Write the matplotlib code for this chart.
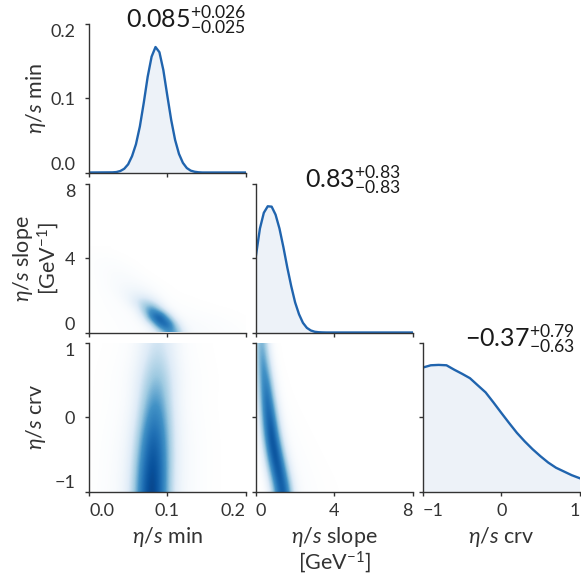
import numpy as np
import matplotlib
matplotlib.use("Agg")
import matplotlib.pyplot as plt
from matplotlib.colors import LinearSegmentedColormap

plt.rcParams['font.family'] = ['Lato', 'DejaVu Sans']
plt.rcParams['mathtext.fontset'] = 'custom'
plt.rcParams['mathtext.rm'] = 'Lato'
plt.rcParams['mathtext.it'] = 'Lato:italic'
plt.rcParams['mathtext.bf'] = 'Lato:bold'

# parameter names, ranges and ticks
names = [r'$\eta/s$ min', r'$\eta/s$ slope' + '\n' + r'[GeV$^{-1}$]', r'$\eta/s$ crv']
lims = [(0, 0.2), (0, 8), (-1, 1)]
ticks = [[0, 0.1, 0.2], [0, 4, 8], [-1, 0, 1]]
tick_labels = [['0.0', '0.1', '0.2'], ['0', '4', '8'], ['\u22121', '0', '1']]
titles = [r'$0.085^{+0.026}_{-0.025}$', r'$0.83^{+0.83}_{-0.83}$', r'$-0.37^{+0.79}_{-0.63}$']

# marginal posteriors (diagonal), in the units of each parameter axis
min_x = [0.000, 0.030, 0.035, 0.040, 0.045, 0.050, 0.055, 0.060, 0.065, 0.070, 0.075, 0.080, 0.085,
         0.090, 0.095, 0.100, 0.105, 0.110, 0.115, 0.120, 0.125, 0.130, 0.135, 0.140, 0.145, 0.200]
min_pdf = [0.0, 0.0002, 0.0006, 0.002, 0.005, 0.011, 0.022, 0.038, 0.062, 0.094, 0.129, 0.156, 0.169,
           0.162, 0.138, 0.104, 0.071, 0.044, 0.025, 0.013, 0.006, 0.0025, 0.001, 0.0003, 0.0, 0.0]

slope_x = [0.0, 0.2, 0.4, 0.6, 0.8, 1.0, 1.2, 1.4, 1.6, 1.8, 2.0, 2.2, 2.4, 2.6, 2.8, 3.0, 3.2, 3.4, 3.6, 8.0]
slope_pdf = [4.16, 5.6, 6.45, 6.8, 6.78, 6.35, 5.6, 4.6, 3.5, 2.5, 1.62, 0.98, 0.52, 0.25, 0.11, 0.04,
             0.015, 0.005, 0.0, 0.0]

crv_x = [-1.0, -0.9, -0.8, -0.7, -0.6, -0.5, -0.4, -0.3, -0.2, -0.1, 0.0,
         0.1, 0.2, 0.3, 0.4, 0.5, 0.6, 0.7, 0.8, 0.9, 1.0]
crv_pdf = [0.67, 0.70, 0.705, 0.70, 0.64, 0.585, 0.526, 0.43, 0.335, 0.20, 0.06,
           -0.077, -0.21, -0.325, -0.43, -0.524, -0.61, -0.68, -0.73, -0.78, -0.82]

# joint posteriors (off-diagonal), rows listed from bottom to top
min_grid = [0.00, 0.20]          # x centres for the two left panels, step 0.01
slope_rows = [0.0, 4.4]          # y centres, step 0.4
hist_min_slope = [
    [0.004, 0.005, 0.007, 0.009, 0.012, 0.015, 0.020, 0.030, 0.050, 0.170, 0.480, 0.480, 0.160, 0.045, 0.035, 0.030, 0.026, 0.022, 0.018, 0.014, 0.010],
    [0.004, 0.006, 0.008, 0.010, 0.013, 0.017, 0.022, 0.035, 0.180, 0.680, 0.840, 0.320, 0.060, 0.035, 0.030, 0.026, 0.022, 0.018, 0.014, 0.010, 0.007],
    [0.005, 0.007, 0.009, 0.012, 0.015, 0.020, 0.030, 0.150, 0.650, 0.930, 0.410, 0.070, 0.030, 0.024, 0.020, 0.017, 0.014, 0.011, 0.008, 0.006, 0.004],
    [0.006, 0.008, 0.011, 0.014, 0.018, 0.025, 0.075, 0.350, 0.600, 0.310, 0.060, 0.022, 0.016, 0.013, 0.010, 0.008, 0.006, 0.005, 0.004, 0.003, 0.002],
    [0.006, 0.009, 0.012, 0.016, 0.025, 0.065, 0.190, 0.300, 0.220, 0.080, 0.022, 0.012, 0.009, 0.007, 0.005, 0.004, 0.003, 0.002, 0.002, 0.001, 0.001],
    [0.007, 0.010, 0.014, 0.022, 0.045, 0.090, 0.120, 0.105, 0.060, 0.024, 0.010, 0.006, 0.004, 0.003, 0.002, 0.001, 0.001, 0.001, 0.0, 0.0, 0.0],
    [0.007, 0.011, 0.019, 0.032, 0.048, 0.059, 0.057, 0.043, 0.026, 0.012, 0.006, 0.003, 0.002, 0.001, 0.001, 0.0, 0.0, 0.0, 0.0, 0.0, 0.0],
    [0.007, 0.012, 0.020, 0.030, 0.039, 0.039, 0.030, 0.018, 0.009, 0.004, 0.002, 0.001] + [0.0] * 9,
    [0.008, 0.014, 0.022, 0.029, 0.029, 0.023, 0.015, 0.007, 0.003, 0.001] + [0.0] * 11,
    [0.009, 0.014, 0.018, 0.020, 0.017, 0.011, 0.006, 0.002] + [0.0] * 13,
    [0.008, 0.011, 0.012, 0.011, 0.007, 0.004, 0.002] + [0.0] * 14,
    [0.005, 0.006, 0.005, 0.003, 0.002, 0.001] + [0.0] * 15,
]

crv_rows = [-1.0, 1.0]           # y centres, step 0.25
hist_min_crv = [
    [0.006, 0.011, 0.020, 0.032, 0.060, 0.146, 0.385, 0.750, 0.950, 0.750, 0.385, 0.146, 0.060, 0.032, 0.020, 0.011, 0.006, 0.003, 0.0015, 0.0007, 0.0],
    [0.0055, 0.010, 0.018, 0.029, 0.054, 0.131, 0.345, 0.690, 0.918, 0.754, 0.405, 0.156, 0.062, 0.033, 0.020, 0.012, 0.0064, 0.0033, 0.0016, 0.0007, 0.0],
    [0.005, 0.009, 0.016, 0.026, 0.047, 0.110, 0.293, 0.604, 0.842, 0.723, 0.408, 0.162, 0.062, 0.034, 0.020, 0.012, 0.0064, 0.0034, 0.0017, 0.0008, 0.0003],
    [0.004, 0.0075, 0.0135, 0.022, 0.039, 0.090, 0.233, 0.503, 0.735, 0.660, 0.390, 0.158, 0.060, 0.032, 0.019, 0.011, 0.006, 0.003, 0.0015, 0.0008, 0.0003],
    [0.003, 0.006, 0.0105, 0.017, 0.030, 0.065, 0.174, 0.391, 0.595, 0.564, 0.347, 0.146, 0.056, 0.027, 0.016, 0.0096, 0.0053, 0.0028, 0.0013, 0.0006, 0.0002],
    [0.0025, 0.0045, 0.008, 0.013, 0.0225, 0.0475, 0.128, 0.298, 0.472, 0.472, 0.298, 0.128, 0.0475, 0.0225, 0.013, 0.008, 0.0045, 0.0025, 0.0013, 0.0006, 0.0003],
    [0.0027, 0.005, 0.0084, 0.0133, 0.0228, 0.0456, 0.110, 0.228, 0.353, 0.369, 0.258, 0.129, 0.053, 0.025, 0.0144, 0.0091, 0.0057, 0.003, 0.0015, 0.0008, 0.0004],
    [0.002, 0.0036, 0.0059, 0.0095, 0.016, 0.031, 0.076, 0.160, 0.255, 0.274, 0.199, 0.104, 0.042, 0.0196, 0.0112, 0.007, 0.0042, 0.0022, 0.0011, 0.0006, 0.0003],
    [0.0013, 0.0024, 0.004, 0.0064, 0.011, 0.021, 0.050, 0.108, 0.178, 0.198, 0.148, 0.080, 0.032, 0.015, 0.0084, 0.0052, 0.0032, 0.0018, 0.0009, 0.0004, 0.0002],
]

slope_grid = [0.0, 5.0]          # x centres, step 0.2
hist_slope_crv = [
    [0.0002, 0.002, 0.014, 0.065, 0.212, 0.485, 0.767, 0.921, 0.704, 0.390, 0.167, 0.067, 0.035, 0.025, 0.0196, 0.016, 0.0136, 0.011, 0.0089, 0.0073, 0.006, 0.0049, 0.004, 0.0033, 0.0027, 0.0022],
    [0.0015, 0.011, 0.059, 0.210, 0.506, 0.824, 0.996, 0.748, 0.398, 0.162, 0.063, 0.033, 0.023, 0.018, 0.0147, 0.0118, 0.0094, 0.0075, 0.0061, 0.0049, 0.0039, 0.0031, 0.0025, 0.0019, 0.0016, 0.0013],
    [0.0086, 0.051, 0.197, 0.503, 0.846, 1.027, 0.755, 0.386, 0.147, 0.055, 0.0285, 0.020, 0.0152, 0.012, 0.0094, 0.0073, 0.0057, 0.0045, 0.0034, 0.0027, 0.0021, 0.0016, 0.0012, 0.001, 0.0008, 0.0006],
    [0.031, 0.142, 0.412, 0.768, 1.007, 0.770, 0.396, 0.146, 0.051, 0.024, 0.016, 0.012, 0.0091, 0.0068, 0.0052, 0.0039, 0.0029, 0.0022, 0.0017, 0.0012, 0.0009] + [0.0] * 5,
    [0.064, 0.241, 0.569, 0.832, 0.824, 0.476, 0.185, 0.057, 0.022, 0.0128, 0.0091, 0.0065, 0.0047, 0.0033, 0.0024, 0.0017, 0.0012, 0.0009] + [0.0] * 8,
    [0.109, 0.344, 0.650, 0.806, 0.549, 0.237, 0.071, 0.021, 0.009, 0.0062, 0.0041, 0.0028, 0.0019, 0.0013, 0.0008, 0.0005] + [0.0] * 10,
    [0.162, 0.423, 0.639, 0.604, 0.311, 0.101, 0.026, 0.009, 0.0051, 0.0033, 0.0021, 0.0013, 0.0008, 0.0005] + [0.0] * 12,
    [0.234, 0.476, 0.583, 0.362, 0.133, 0.032, 0.0086, 0.0039, 0.0024, 0.0014, 0.0009, 0.0006] + [0.0] * 14,
    [0.273, 0.441, 0.407, 0.188, 0.051, 0.012, 0.0045, 0.0025, 0.0015, 0.0009, 0.0005] + [0.0] * 15,
]

diag = [(min_x, min_pdf), (slope_x, slope_pdf), (crv_x, crv_pdf)]
joint = {
    (1, 0): (hist_min_slope, min_grid, slope_rows, 1.0),
    (2, 0): (hist_min_crv, min_grid, crv_rows, 1.0),
    (2, 1): (hist_slope_crv, slope_grid, crv_rows, 1.12),
}

line_color = '#2064ae'
ink = '#333333'
cmap = LinearSegmentedColormap.from_list(
    'wblues', ['#ffffff', '#deebf7', '#9ecae1', '#4292c6', '#2171b5', '#08519c', '#08306b'])

W, H = 581, 576
fig = plt.figure(figsize=(W / 100, H / 100), dpi=100)
col_left = [89, 256, 423]
row_top = [24, 184, 343]
aw, ah = 156.5, 148.5


def extent_of(grid, centres_x, centres_y):
    a = np.asarray(grid)
    dx = (centres_x[1] - centres_x[0]) / (a.shape[1] - 1)
    dy = (centres_y[1] - centres_y[0]) / (a.shape[0] - 1)
    return [centres_x[0] - dx / 2, centres_x[1] + dx / 2,
            centres_y[0] - dy / 2, centres_y[1] + dy / 2]


for r in range(3):
    for c in range(r + 1):
        ax = fig.add_axes([col_left[c] / W, 1 - (row_top[r] + ah) / H, aw / W, ah / H])
        for side in ['top', 'right']:
            ax.spines[side].set_visible(False)
        for side in ['left', 'bottom']:
            ax.spines[side].set_color(ink)
            ax.spines[side].set_linewidth(1.0)

        if r == c:
            xs, ys = diag[r]
            ax.plot(xs, ys, color=line_color, lw=1.7, solid_joinstyle='round')
            ax.fill_between(xs, ys, lims[r][0], color=line_color, alpha=0.08, lw=0)
            ax.text(0.62, 0.97, titles[r], transform=ax.transAxes, ha='center',
                    va='baseline', fontsize=18, color='#1a1a1a')
        else:
            grid, gx, gy, top = joint[(r, c)]
            ax.imshow(np.asarray(grid), origin='lower', extent=extent_of(grid, gx, gy),
                      aspect='auto', cmap=cmap, vmin=0, vmax=top, interpolation='bicubic')

        ax.set_xlim(lims[c])
        ax.set_ylim(lims[r])
        ax.set_xticks(ticks[c])
        ax.set_yticks(ticks[r])
        ax.tick_params(direction='out', length=3, width=1.0, color=ink,
                       labelsize=13, labelcolor=ink)
        ax.tick_params(axis='x', pad=5.5)
        ax.tick_params(axis='y', pad=7)

        if r == 2:
            ax.set_xticklabels(tick_labels[c])
            xl = ax.get_xticklabels()
            xl[0].set_horizontalalignment('left')
            xl[-1].set_horizontalalignment('right')
            ax.set_xlabel(names[c], fontsize=15.5, color=ink, va='top', linespacing=1.0)
            ax.xaxis.set_label_coords(0.5, -0.225)
        else:
            ax.set_xticklabels([])
        if c == 0:
            ax.set_yticklabels(tick_labels[r])
            yl = ax.get_yticklabels()
            yl[0].set_verticalalignment('bottom')
            yl[-1].set_verticalalignment('top')
            ax.set_ylabel(names[r], fontsize=15.5, color=ink, va='center', linespacing=1.0)
            ax.yaxis.set_label_coords(-0.34, 0.5)
        else:
            ax.set_yticklabels([])

fig.savefig('out.png', dpi=100)
